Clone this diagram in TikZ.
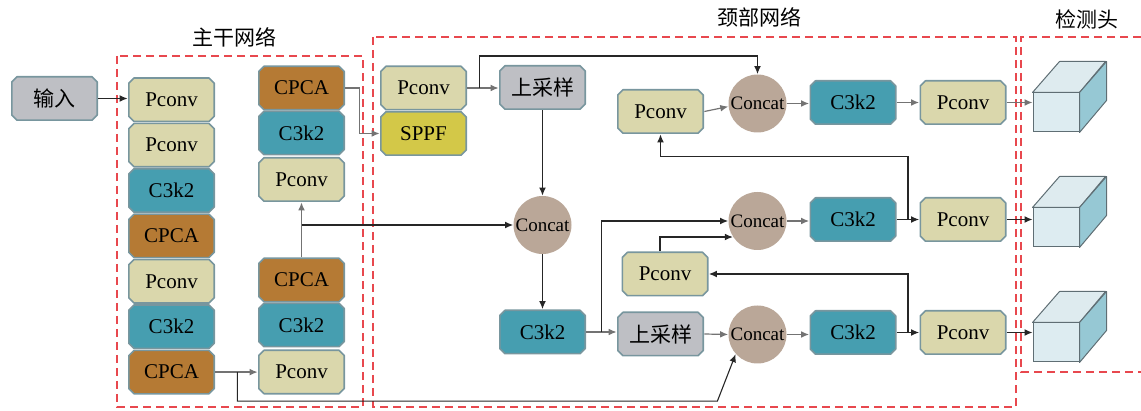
\documentclass[tikz,border=0pt]{standalone}
\usepackage{fontspec}
\setmainfont{Liberation Serif}
\newfontfamily\cjk{Noto Sans CJK SC}
\usetikzlibrary{arrows.meta,calc}
\definecolor{pconvc}{RGB}{218,215,172}
\definecolor{c3c}{RGB}{70,158,176}
\definecolor{cpcac}{RGB}{181,122,52}
\definecolor{sppfc}{RGB}{211,200,72}
\definecolor{greyc}{RGB}{190,191,196}
\definecolor{concatc}{RGB}{186,167,152}
\definecolor{edgec}{RGB}{120,150,158}
\definecolor{reddash}{RGB}{232,72,78}
\definecolor{cubefront}{RGB}{221,236,241}
\definecolor{cubetop}{RGB}{222,235,239}
\definecolor{cuberight}{RGB}{150,200,212}
\definecolor{cubeedge}{RGB}{95,110,116}
\begin{document}
\begin{tikzpicture}[x=0.5pt,y=-0.5pt,
  blk/.style={rectangle, minimum width=43.5pt, minimum height=22.5pt, inner sep=0pt,
    font=\fontsize{10.5pt}{12pt}\selectfont,
    path picture={
      \filldraw[fill=#1, draw=edgec, line width=0.8pt, line join=round]
        ($(path picture bounding box.north west)+(3pt,-0.4pt)$) --
        ($(path picture bounding box.north east)+(-3pt,-0.4pt)$) --
        ($(path picture bounding box.north east)+(-0.4pt,-3pt)$) --
        ($(path picture bounding box.south east)+(-0.4pt,3pt)$) --
        ($(path picture bounding box.south east)+(-3pt,0.4pt)$) --
        ($(path picture bounding box.south west)+(3pt,0.4pt)$) --
        ($(path picture bounding box.south west)+(0.4pt,3pt)$) --
        ($(path picture bounding box.north west)+(0.4pt,-3pt)$) -- cycle;}},
  pconv/.style={blk=pconvc},
  cthree/.style={blk=c3c},
  cpca/.style={blk=cpcac},
  sppf/.style={blk=sppfc},
  gblk/.style={blk=greyc, font=\cjk\fontsize{10.5pt}{12pt}\selectfont},
  concat/.style={circle, fill=concatc, minimum size=29pt, inner sep=0pt,
    font=\fontsize{9.5pt}{11pt}\selectfont},
  arr/.style={draw=black!85, line width=0.55pt, -{Latex[length=4pt,width=3.4pt]}},
  arrg/.style={draw=black!55, line width=0.6pt, -{Latex[length=4pt,width=3.4pt]}},
  redd/.style={draw=reddash, line width=0.6pt, dash pattern=on 4pt off 2.5pt},
  title/.style={font=\cjk\fontsize{10.5pt}{12pt}\selectfont, inner sep=0pt},
  front/.style={draw=cubeedge, fill=cubefront, line width=0.5pt, minimum width=23pt, minimum height=19.5pt, inner sep=0pt},
  face/.style={draw=cubeedge, line width=0.5pt, line join=round}
]
\useasboundingbox (0,0) rectangle (1141,411);

% dashed regions
\draw[redd] (117,56) rectangle (363,407);
\draw[redd] (373,37) rectangle (1016,407);
\draw[redd] (1141,37) -- (1021,37) -- (1021,372) -- (1141,372);

% titles
\node[title] (t_bb) at (234,37) {主干网络};
\node[title] (t_neck) at (759,17) {颈部网络};
\node[title] (t_head) at (1087,19) {检测头};

% input
\node[gblk] (in) at (54.5,98.5) {输入};

% backbone column 1
\node[pconv]  (b1) at (171.5,99.7)  {Pconv};
\node[pconv]  (b2) at (171.5,145.1) {Pconv};
\node[cthree] (b3) at (171.5,190.5) {C3k2};
\node[cpca]   (b4) at (171.5,235.9) {CPCA};
\node[pconv]  (b5) at (171.5,281.3) {Pconv};
\node[cthree] (b6) at (171.5,326.7) {C3k2};
\node[cpca]   (b7) at (171.5,372.1) {CPCA};

% backbone column 2 top
\node[cpca]   (t1) at (301.5,88)    {CPCA};
\node[cthree] (t2) at (301.5,133)   {C3k2};
\node[pconv]  (t3) at (301.5,179.5) {Pconv};
% backbone column 2 bottom
\node[cpca]   (u1) at (301.5,280)   {CPCA};
\node[cthree] (u2) at (301.5,325)   {C3k2};
\node[pconv]  (u3) at (301.5,372)   {Pconv};

% neck
\node[pconv]  (n1)   at (423.5,88)    {Pconv};
\node[sppf]   (sppf) at (423.5,133.5) {SPPF};
\node[gblk]   (up1)  at (542.5,87.5)  {上采样};
\node[pconv]  (pu)   at (660.5,111.5) {Pconv};
\node[concat] (c1)   at (757.5,103.5) {Concat};
\node[cthree] (c3k2a) at (853,102.5) {C3k2};
\node[pconv]  (pa)   at (963,102.5)  {Pconv};

\node[concat] (cm)   at (542.5,225)  {Concat};
\node[cthree] (c3k2l) at (542.5,332) {C3k2};
\node[gblk]   (up2)  at (660.5,334)  {上采样};
\node[pconv]  (pmid) at (665,274)    {Pconv};
\node[concat] (c2)   at (757.5,221)  {Concat};
\node[cthree] (c3k2b) at (853,219.5) {C3k2};
\node[pconv]  (pb)   at (963,219.5)  {Pconv};

\node[concat] (c3)   at (757.5,334.5) {Concat};
\node[cthree] (c3k2c) at (853,332.5) {C3k2};
\node[pconv]  (pc)   at (963,332.5)  {Pconv};

% cubes
\foreach \nm/\cy in {cubeA/112.5, cubeB/227.5, cubeC/342.5}{
  \node[front] (\nm) at (1056,\cy) {};
  \draw[face, fill=cubetop] (\nm.north west) -- ++(27,-31) -- ++(46,0) -- (\nm.north east) -- cycle;
  \draw[face, fill=cuberight] (\nm.north east) -- ++(27,-31) -- ++(0,39) -- (\nm.south east) -- cycle;
}

% connectors
\draw[arr] (in.east) -- (in.east -| b1.west);
\draw[arrg] (t1.east) -- ++(14,0) |- (sppf.west);
\draw[arrg] (u1.north) -- (t3.south);
\draw[arr] (u1.north |- cm.west) -- (cm.west);
\draw[arrg] (b7.east) -- (b7.east -| u3.west);
\draw[arr] ($(b7.east)+(22,0)$) -- ++(0,29) -- ++(480,0) -- (c3.222);

\draw[arrg] (n1.east) -- (n1.east -| up1.west);
\draw[arr] ($(n1.east)+(12,0)$) -- ++(0,-32) -| (c1.north);
\draw[arr] (up1.south) -- (cm.north);
\draw[arr] (cm.south) -- (c3k2l.north);
\draw[arrg] (c3k2l.east) -- (c3k2l.east -| up2.west);
\draw[arr] ($(c3k2l.east)+(15,0)$) |- (c2.west);
\draw[arrg] (up2.east) -- (c3.west);
\draw[arr] ($(pmid.north)+(-5,0)$) |- (c2.213);
\draw[arrg] (pu.east) -- (c1.186);

\draw[arrg] (c1.east) -- (c1.east -| c3k2a.west);
\draw[arrg] (c3k2a.east) -- (pa.west);
\draw[arrg] (pa.east) -- (pa.east -| cubeA.west);
\draw[arrg] (c2.east) -- (c2.east -| c3k2b.west);
\draw[arr] (c3k2b.east) -- (pb.west);
\draw[arr] (pb.east) -- (pb.east -| cubeB.west);
\draw[arrg] (c3.east) -- (c3.east -| c3k2c.west);
\draw[arr] (c3k2c.east) -- (pc.west);
\draw[arr] (pc.east) -- (pc.east -| cubeC.west);

\draw[arr] ($(c3k2b.east)!0.5!(pb.west)$) -- ++(0,-63) -| (pu.south);
\draw[arr] ($(c3k2c.east)!0.5!(pc.west)$) |- (pmid.east);
\end{tikzpicture}
\end{document}
